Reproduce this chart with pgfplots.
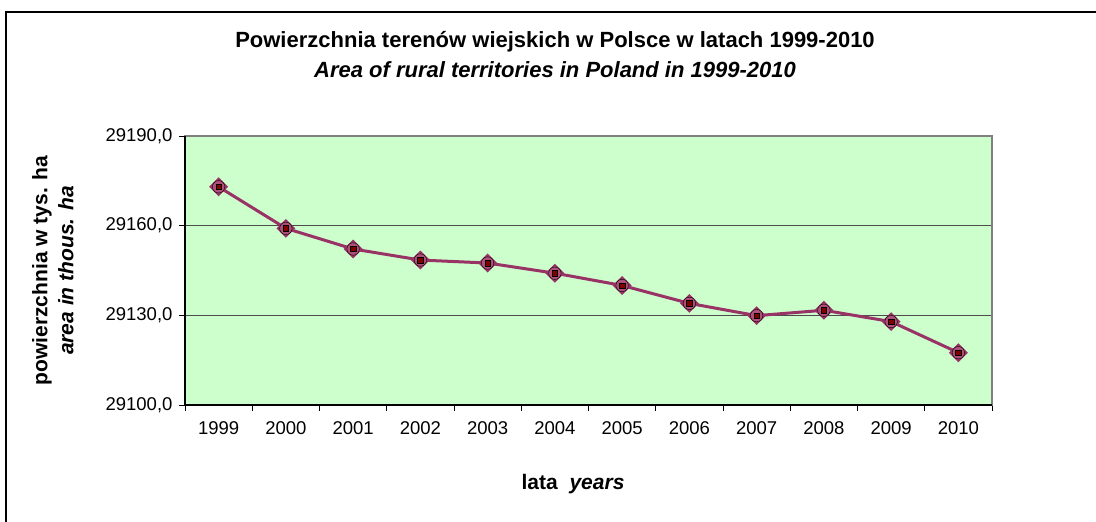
\documentclass[border=0pt]{standalone}
\usepackage{fontspec}
\setmainfont{Liberation Sans}
\usepackage{pgfplots}
\pgfplotsset{compat=1.18}
\definecolor{bgGreen}{HTML}{CCFFCC}
\definecolor{plum}{HTML}{993366}
\definecolor{halo}{HTML}{B0507A}
\definecolor{navyM}{HTML}{000080}
\definecolor{maroonM}{HTML}{800000}
\pgfplotstableread{
x y
0 29173.0
1 29159.1
2 29152.2
3 29148.5
4 29147.5
5 29144.1
6 29140.0
7 29134.0
8 29129.9
9 29131.7
10 29127.9
11 29117.5
}\datatable
\begin{document}
\begin{tikzpicture}
\useasboundingbox (0pt,0pt) rectangle (1096pt,522pt);
\draw[black, line width=1.5pt] (6pt,0pt) -- (6pt,510pt) -- (1096pt,510pt);
\begin{axis}[
  at={(185pt,117pt)}, anchor=south west,
  scale only axis, width=807pt, height=269pt,
  xmin=-0.5, xmax=11.5,
  ymin=29100, ymax=29190,
  xtick={-0.5,0.5,...,11.5},
  x tick label as interval,
  xticklabels={1999,2000,2001,2002,2003,2004,2005,2006,2007,2008,2009,2010},
  ytick={29100,29130,29160,29190},
  scaled y ticks=false,
  yticklabel style={/pgf/number format/fixed, /pgf/number format/fixed zerofill, /pgf/number format/precision=1, /pgf/number format/use comma, /pgf/number format/1000 sep={}, xshift=-3pt},
  /pgf/number format/assume math mode=true,
  tick label style={font=\fontsize{18.5}{22}\selectfont, black},
  xticklabel style={yshift=-7pt},
  tick align=outside, major tick length=6pt,
  xtick pos=bottom, ytick pos=left,
  tick style={black, line width=0.8pt},
  ymajorgrids, grid style={black!70, line width=1.1pt},
  axis line style={draw=black!50, line width=2pt},
  axis background/.style={fill=bgGreen},
  title={\textbf{Powierzchnia terenów wiejskich w Polsce w latach 1999-2010}\\\textbf{\textit{Area of rural territories in Poland in 1999-2010}}},
  title style={at={(axis description cs:0.4585,1.2788)}, anchor=center, align=center, font=\fontsize{22}{30}\selectfont},
  xlabel={\textbf{lata}\ \ \textbf{\textit{years}}},
  xlabel style={at={(axis description cs:0.4808,-0.2937)}, anchor=center, font=\fontsize{21}{25}\selectfont},
  ylabel={\textbf{powierzchnia w tys. ha}\\\textbf{\textit{area in thous. ha}}},
  ylabel style={at={(axis description cs:-0.1636,0.5)}, anchor=center, align=center, font=\fontsize{21}{26}\selectfont},
  clip=false,
]
\addplot[color=plum, line width=3pt, mark=square*, mark size=5.2pt,
  mark options={fill=navyM, draw=none, rotate=45}] table[x=x, y=y] {\datatable};
\addplot[draw=none, mark=*, mark size=6.2pt,
  mark options={fill=halo, draw=none}] table[x=x, y=y] {\datatable};
\addplot[draw=none, mark=square*, mark size=2.7pt,
  mark options={fill=maroonM, draw=none}] table[x=x, y=y] {\datatable};
\draw[black, line width=2pt] (rel axis cs:0,1) -- (rel axis cs:0,0) -- (rel axis cs:1,0);
\end{axis}
\end{tikzpicture}
\end{document}
